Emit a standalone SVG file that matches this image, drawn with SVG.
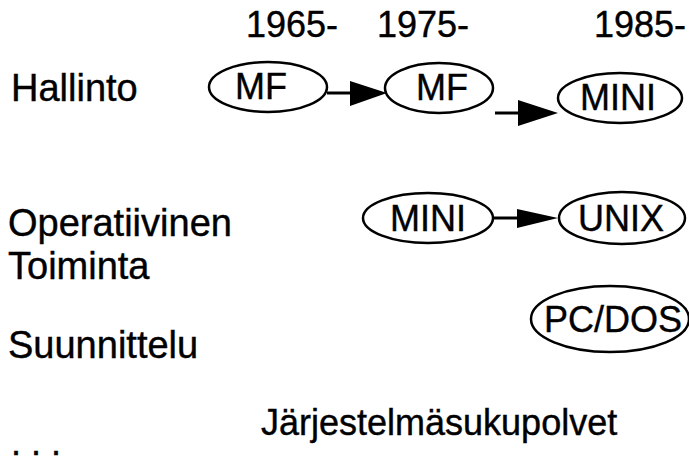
<svg xmlns="http://www.w3.org/2000/svg" width="689" height="463" viewBox="0 0 689 463">
<style>
text{font-family:"Liberation Sans",Arial,sans-serif;fill:#000;stroke:#000;stroke-width:0.4}
.lbl{font-size:36px}
.big{font-size:38px}
.nt{font-size:36px;text-anchor:middle}
.node ellipse{fill:#fff;stroke:#000;stroke-width:2.5}
.edge line{stroke:#000;stroke-width:3}
.edge polygon{fill:#000}
</style>
<rect width="689" height="463" fill="#fff"/>
<g id="labels">
<text class="lbl" x="246" y="37">1965-</text>
<text class="lbl" x="377" y="37">1975-</text>
<text class="lbl" x="594" y="37">1985-</text>
<text class="big" x="11" y="101">Hallinto</text>
<text class="big" x="8" y="236">Operatiivinen</text>
<text class="big" x="8" y="279">Toiminta</text>
<text class="big" x="8" y="358">Suunnittelu</text>
<text class="lbl" x="261" y="435">Järjestelmäsukupolvet</text>
<text class="lbl" x="11" y="455">. . .</text>
</g>
<g id="connectors" class="edge">
<line x1="327" y1="93" x2="352" y2="93"/>
<polygon points="350,81 387,93 350,106"/>
<line x1="495" y1="113" x2="520" y2="113"/>
<polygon points="518,100 558,113 518,126"/>
<line x1="493" y1="218" x2="520" y2="218"/>
<polygon points="517,209 558,218 517,228"/>
</g>
<g id="n1" class="node"><ellipse cx="268" cy="87" rx="59" ry="25"/><text class="nt" x="261" y="99">MF</text></g>
<g id="n2" class="node"><ellipse cx="439" cy="88" rx="54" ry="25"/><text class="nt" x="442" y="100">MF</text></g>
<g id="n3" class="node"><ellipse cx="620" cy="98" rx="62" ry="25"/><text class="nt" x="618" y="110">MINI</text></g>
<g id="n4" class="node"><ellipse cx="428" cy="218" rx="65" ry="25"/><text class="nt" x="428" y="231">MINI</text></g>
<g id="n5" class="node"><ellipse cx="622" cy="218" rx="63" ry="26"/><text class="nt" x="621" y="231">UNIX</text></g>
<g id="n6" class="node"><ellipse cx="610" cy="319" rx="79" ry="33"/><text class="nt" x="613" y="332">PC/DOS</text></g>
</svg>
